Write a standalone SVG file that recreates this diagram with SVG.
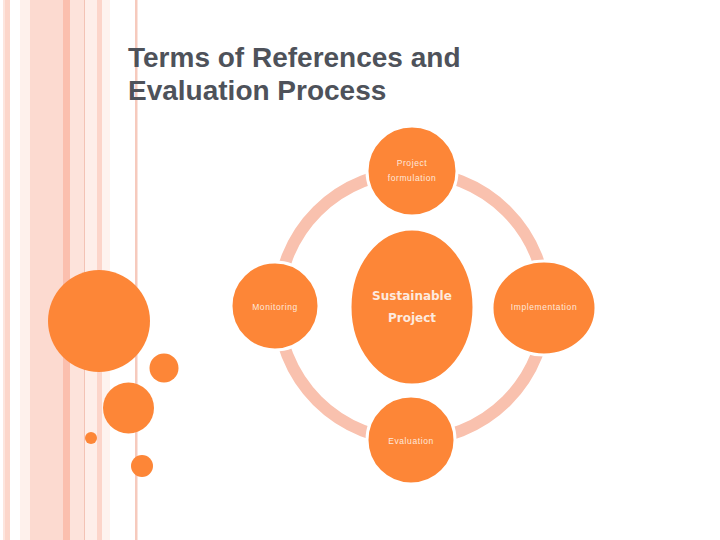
<svg xmlns="http://www.w3.org/2000/svg" width="720" height="540" viewBox="0 0 720 540">
<style>
.node{fill:#fd8637;stroke:#ffffff;stroke-width:3}
.deco{fill:#fd8637}
.lbl{font-family:"Liberation Sans",Arial,sans-serif;font-size:8.5px;letter-spacing:0.6px;fill:#fde8dc;text-anchor:middle}
.big{font-family:"DejaVu Sans","Liberation Sans",sans-serif;font-size:12px;font-weight:bold;fill:#fdeadf;text-anchor:middle}
.title{font-family:"Liberation Sans",Arial,sans-serif;font-size:28px;font-weight:bold;fill:#4e525a}
</style>
<rect width="720" height="540" fill="#ffffff"/>
<g id="stripes">
<rect x="3" y="0" width="3" height="540" fill="#fde5dd"/>
<rect x="5" y="0" width="5" height="540" fill="#fcd6ca"/>
<rect x="20" y="0" width="10" height="540" fill="#fef1ec"/>
<rect x="30" y="0" width="33" height="540" fill="#fcdad0"/>
<rect x="63" y="0" width="7" height="540" fill="#fbbfae"/>
<rect x="70" y="0" width="14" height="540" fill="#fde3db"/>
<rect x="84" y="0" width="1" height="540" fill="#f3c3b5"/>
<rect x="85" y="0" width="12" height="540" fill="#feeee9"/>
<rect x="97" y="0" width="5" height="540" fill="#fcd5ca"/>
<rect x="102" y="0" width="8" height="540" fill="#fef3ef"/>
<rect x="135" y="0" width="2.5" height="540" fill="#f6cabd"/>
</g>
<g id="title">
<text class="title" x="128" y="67">Terms of References and</text>
<text class="title" x="128" y="100">Evaluation Process</text>
</g>
<g id="decor">
<circle class="deco" cx="99" cy="321" r="51"/>
<circle class="deco" cx="164" cy="368" r="14.5"/>
<circle class="deco" cx="128.5" cy="408" r="25.5"/>
<circle class="deco" cx="91" cy="438" r="6"/>
<circle class="deco" cx="142" cy="466" r="11"/>
</g>
<g id="connectors">
<circle cx="412" cy="306" r="134" fill="none" stroke="#f9c1ae" stroke-width="12"/>
</g>
<g id="center">
<ellipse class="node" cx="412" cy="307" rx="62" ry="78"/>
<text class="big" x="412" y="300">Sustainable</text>
<text class="big" x="412" y="322">Project</text>
</g>
<g id="formulation">
<circle class="node" cx="412" cy="171" r="45"/>
<text class="lbl" x="412" y="166">Project</text>
<text class="lbl" x="412" y="181">formulation</text>
</g>
<g id="monitoring">
<circle class="node" cx="275" cy="306" r="44"/>
<text class="lbl" x="275" y="310">Monitoring</text>
</g>
<g id="implementation">
<ellipse class="node" cx="544" cy="308" rx="52" ry="47"/>
<text class="lbl" x="544" y="310">Implementation</text>
</g>
<g id="evaluation">
<circle class="node" cx="411" cy="440" r="44"/>
<text class="lbl" x="411" y="444">Evaluation</text>
</g>
</svg>
